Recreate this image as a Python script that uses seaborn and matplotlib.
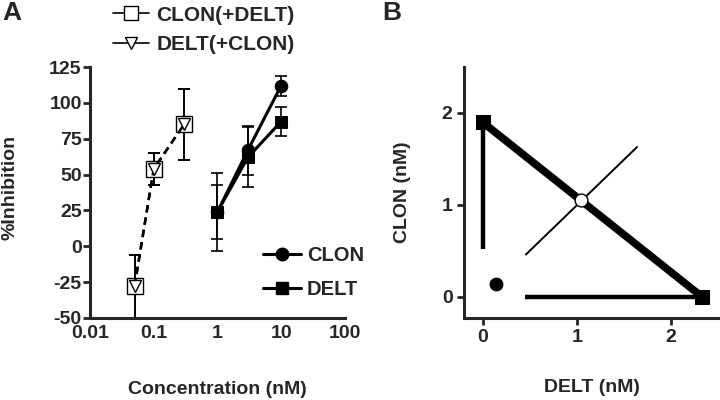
import numpy as np
import pandas as pd
import seaborn as sns
import matplotlib.pyplot as plt
from matplotlib.lines import Line2D

# panel A data: single agents
conc = [1, 3, 10]
clon_mean = [24, 67, 112]
clon_err = [27, 17, 7]
delt_mean = [24, 62, 87]
delt_err = [19, 21, 10]

# panel A data: combinations
comb_conc = [0.05, 0.1, 0.3]
clon_comb_mean = [-28, 54, 85]
clon_comb_err = [22, 11, 25]
delt_comb_mean = [-28, 54, 85]
delt_comb_err = [22, 11, 25]

# panel B data: isobologram
iso_delt = [0, 2.33]
iso_clon = [1.9, 0]
clon_ci_y = [0.52, 1.9]
delt_ci_x = [0.45, 2.33]
add_point = (1.04, 1.05)
add_ci_x = [0.46, 1.64]
add_ci_y = [0.46, 1.63]
mix_point = (0.14, 0.14)

sns.set_style("ticks")
plt.rcParams['font.family'] = ['Liberation Sans', 'DejaVu Sans']
plt.rcParams['font.weight'] = 'bold'
plt.rcParams['axes.labelweight'] = 'bold'
plt.rcParams['axes.unicode_minus'] = False

fig = plt.figure(figsize=(7.2, 4), dpi=100)
axA = fig.add_axes([0.125, 0.205, 0.354, 0.6275])
axB = fig.add_axes([0.644, 0.205, 0.356, 0.6275])

# ---- panel A ----
single = pd.DataFrame({"conc": conc * 2,
                       "val": clon_mean + delt_mean,
                       "drug": ["CLON"] * 3 + ["DELT"] * 3})
comb = pd.DataFrame({"conc": comb_conc * 2,
                     "val": clon_comb_mean + delt_comb_mean,
                     "drug": ["CLON(+DELT)"] * 3 + ["DELT(+CLON)"] * 3})

ekw = dict(fmt='none', ecolor='black', elinewidth=1.2, capsize=4, capthick=1.2)
axA.errorbar(conc, clon_mean, yerr=clon_err, **ekw)
axA.errorbar(conc, delt_mean, yerr=delt_err, **ekw)
axA.errorbar(comb_conc, clon_comb_mean, yerr=clon_comb_err, **ekw)
axA.errorbar(comb_conc, delt_comb_mean, yerr=delt_comb_err, **ekw)

sns.lineplot(data=single, x="conc", y="val", hue="drug", style="drug",
             markers={"CLON": "o", "DELT": "s"}, dashes=False,
             palette={"CLON": "black", "DELT": "black"},
             markersize=9, linewidth=2.2, markeredgecolor='black',
             legend=False, ax=axA)
sns.lineplot(data=comb, x="conc", y="val", hue="drug", style="drug",
             markers={"CLON(+DELT)": "s", "DELT(+CLON)": "v"},
             dashes={"CLON(+DELT)": (3, 2), "DELT(+CLON)": (3, 2)},
             palette={"CLON(+DELT)": "black", "DELT(+CLON)": "black"},
             linewidth=1.8, legend=False, ax=axA)
# open symbols for the combinations
for ln in axA.lines[-2:]:
    ln.set_markerfacecolor('white')
    ln.set_markeredgecolor('black')
    ln.set_markeredgewidth(1.0)
axA.lines[-2].set_markersize(11)
axA.lines[-1].set_markersize(8)

axA.set_xscale('log')
axA.set_xlim(0.01, 100)
axA.set_ylim(-50, 125)
axA.set_xticks([0.01, 0.1, 1, 10, 100])
axA.set_xticklabels(["0.01", "0.1", "1", "10", "100"])
axA.minorticks_off()
axA.set_yticks([-50, -25, 0, 25, 50, 75, 100, 125])
axA.tick_params(axis='x', length=0, pad=5, labelsize=14)
axA.tick_params(axis='y', length=5, width=2, labelsize=14, pad=1)
for s in ['left', 'bottom']:
    axA.spines[s].set_linewidth(2.2)
sns.despine(ax=axA)
axA.set_xlabel("Concentration (nM)", fontsize=14, labelpad=28)
axA.set_ylabel("%Inhibition", fontsize=14)
axA.yaxis.set_label_coords(-0.28, 0.52)

h1 = [Line2D([], [], color='black', lw=1.2, marker='s', markersize=10, mfc='white', mec='black'),
      Line2D([], [], color='black', lw=1.2, marker='v', markersize=8, mfc='white', mec='black')]
fig.legend(h1, ["CLON(+DELT)", "DELT(+CLON)"], loc='upper left',
           bbox_to_anchor=(0.142, 1.012), frameon=False, fontsize=15,
           handlelength=1.75, handletextpad=0.35, labelspacing=0.5, borderpad=0.0)
h2 = [Line2D([], [], color='black', lw=2.2, marker='o', markersize=9),
      Line2D([], [], color='black', lw=2.2, marker='s', markersize=9)]
fig.legend(h2, ["CLON", "DELT"], loc='upper left',
           bbox_to_anchor=(0.348, 0.415), frameon=False, fontsize=14.5,
           handlelength=1.9, handletextpad=0.3, labelspacing=0.75, borderpad=0.1)

# ---- panel B ----
sns.lineplot(x=iso_delt, y=iso_clon, color='black', linewidth=5.5, marker='s',
             markersize=10, markeredgecolor='black', ax=axB)
axB.plot([0, 0], clon_ci_y, color='black', lw=3.2, solid_capstyle='butt')
axB.plot(delt_ci_x, [0, 0], color='black', lw=3.2, solid_capstyle='butt')
axB.plot(add_ci_x, add_ci_y, color='black', lw=1.4)
sns.scatterplot(x=[add_point[0]], y=[add_point[1]], s=85, color='white',
                edgecolor='black', linewidth=1, zorder=5, ax=axB)
sns.scatterplot(x=[mix_point[0]], y=[mix_point[1]], s=85, color='black',
                edgecolor='black', zorder=5, ax=axB)

axB.set_xlim(-0.2, 2.52)
axB.set_ylim(-0.23, 2.5)
axB.set_xticks([0, 1, 2])
axB.set_yticks([0, 1, 2])
axB.tick_params(length=5, width=2, labelsize=14, pad=3)
for s in ['left', 'bottom']:
    axB.spines[s].set_linewidth(2.2)
sns.despine(ax=axB)
axB.set_xlabel("DELT (nM)", fontsize=14, labelpad=24)
axB.set_ylabel("CLON (nM)", fontsize=14, labelpad=22)

for ax in (axA, axB):
    for lab in ax.get_xticklabels() + ax.get_yticklabels():
        lab.set_fontweight('bold')

fig.text(0.003, 0.998, "A", fontsize=19, fontweight='bold', va='top', ha='left')
fig.text(0.531, 0.998, "B", fontsize=19, fontweight='bold', va='top', ha='left')

fig.savefig("out.png", dpi=100)
